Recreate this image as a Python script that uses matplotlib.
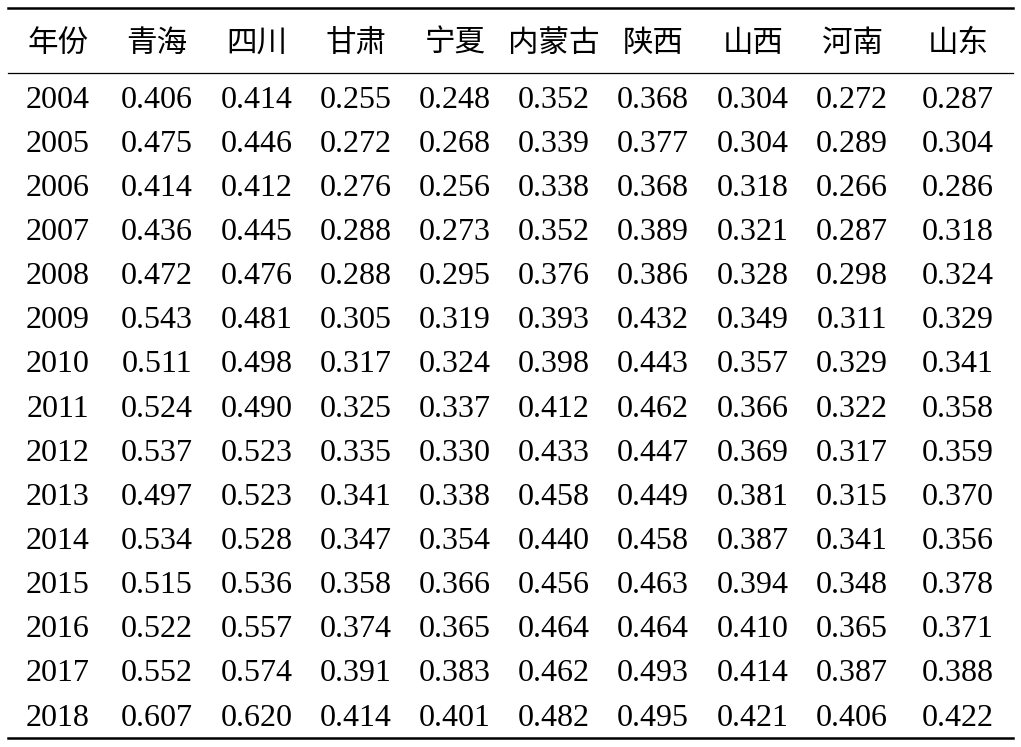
import matplotlib
matplotlib.use("Agg")
import matplotlib.pyplot as plt

# table data
header = ["年份", "青海", "四川", "甘肃", "宁夏", "内蒙古", "陕西", "山西", "河南", "山东"]
years = list(range(2004, 2019))
qinghai = [0.406, 0.475, 0.414, 0.436, 0.472, 0.543, 0.511, 0.524, 0.537, 0.497, 0.534, 0.515, 0.522, 0.552, 0.607]
sichuan = [0.414, 0.446, 0.412, 0.445, 0.476, 0.481, 0.498, 0.490, 0.523, 0.523, 0.528, 0.536, 0.557, 0.574, 0.620]
gansu = [0.255, 0.272, 0.276, 0.288, 0.288, 0.305, 0.317, 0.325, 0.335, 0.341, 0.347, 0.358, 0.374, 0.391, 0.414]
ningxia = [0.248, 0.268, 0.256, 0.273, 0.295, 0.319, 0.324, 0.337, 0.330, 0.338, 0.354, 0.366, 0.365, 0.383, 0.401]
neimenggu = [0.352, 0.339, 0.338, 0.352, 0.376, 0.393, 0.398, 0.412, 0.433, 0.458, 0.440, 0.456, 0.464, 0.462, 0.482]
shaanxi = [0.368, 0.377, 0.368, 0.389, 0.386, 0.432, 0.443, 0.462, 0.447, 0.449, 0.458, 0.463, 0.464, 0.493, 0.495]
shanxi = [0.304, 0.304, 0.318, 0.321, 0.328, 0.349, 0.357, 0.366, 0.369, 0.381, 0.387, 0.394, 0.410, 0.414, 0.421]
henan = [0.272, 0.289, 0.266, 0.287, 0.298, 0.311, 0.329, 0.322, 0.317, 0.315, 0.341, 0.348, 0.365, 0.387, 0.406]
shandong = [0.287, 0.304, 0.286, 0.318, 0.324, 0.329, 0.341, 0.358, 0.359, 0.370, 0.356, 0.378, 0.371, 0.388, 0.422]
columns = [qinghai, sichuan, gansu, ningxia, neimenggu, shaanxi, shanxi, henan, shandong]

fonts = ["Liberation Serif", "Noto Sans CJK SC"]
col_x = [58, 157, 257, 356, 455, 554, 653, 753, 852, 958]

fig = plt.figure(figsize=(10.21, 7.47), dpi=100)
ax = fig.add_axes([0, 0, 1, 1])
ax.set_xlim(0, 1021)
ax.set_ylim(747, 0)
ax.axis("off")

# rules
ax.plot([8, 1013], [8, 8], color="black", lw=1.8)
ax.plot([8, 1013], [73, 73], color="black", lw=0.9)
ax.plot([8, 1013], [738, 738], color="black", lw=1.8)

for x, h in zip(col_x, header):
    ax.text(x, 44, h, ha="center", va="center", fontsize=22, family=fonts)

row_y0, row_dy = 100, 44.15
for i, yr in enumerate(years):
    y = row_y0 + i * row_dy
    ax.text(col_x[0], y, str(yr), ha="center", va="center", fontsize=23, family=fonts)
    for x, col in zip(col_x[1:], columns):
        ax.text(x, y, f"{col[i]:.3f}", ha="center", va="center", fontsize=23, family=fonts)

fig.savefig("out.png", dpi=100)
